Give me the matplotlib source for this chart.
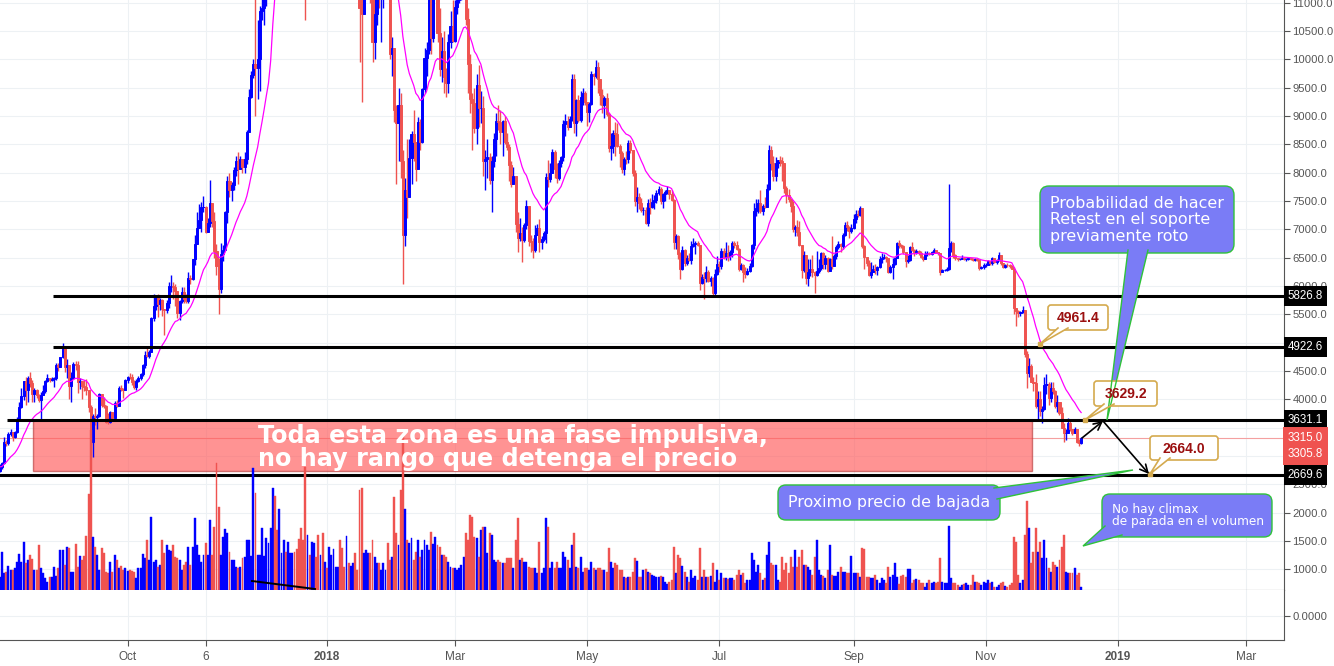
import numpy as np
import pandas as pd
import matplotlib
matplotlib.use('Agg')
import matplotlib.pyplot as plt
import matplotlib.dates as mdates
from matplotlib.ticker import FuncFormatter, FormatStrFormatter
from matplotlib.patches import Rectangle, FancyBboxPatch, Polygon

plt.rcParams['font.family'] = ['Liberation Sans', 'DejaVu Sans']

# ── datos diarios BTC (desde 2017-08-03) ─────────────────────
first_open = 2730
closes = [
    2810, 2870, 3250, 3230, 3390, 3420, 3340, 3420, 3650, 3860, 4060, 4320, 4160, 4380, 4290, 4100, 4160, 4080, 3990, 4080, 4150, 4330, 4370, 4350, 4360, 4380, 4600, 4580, 4740,
    4920, 4580, 4600, 4230, 4380, 4630, 4610, 4310, 4330, 4230, 4220, 4170, 3870, 3240, 3700, 3690, 3700, 4090, 3910, 3880, 3610, 3600, 3780, 3670, 3930, 3890, 4200, 4190, 4160, 4340,
    4400, 4390, 4310, 4220, 4330, 4370, 4440, 4610, 4780, 4770, 4830, 5440, 5640, 5830, 5690, 5760, 5600, 5580, 5710, 6000, 6010, 5980, 5910, 5520, 5740, 5890, 5770, 5740, 6150, 6130, 6470,
    6740, 7030, 7160, 7390, 7390, 6960, 7120, 7460, 7140, 6620, 6360, 5950, 6560, 6640, 7300, 7850, 7700, 7790, 8040, 8200, 8070, 8240, 8100, 8240, 8720, 9330, 9720, 9910, 9840, 10000,
    10860, 10900, 11250, 11620, 11700, 13700, 16800, 16000, 14800, 15000, 16700, 17100, 16300, 16400, 17600, 19200, 19100, 18900, 17600, 16400, 15600, 13800, 14200, 13700, 13900, 15800, 15400, 14400, 14400, 12600, 13800,
    13400, 14800, 15100, 15100, 17000, 17100, 16200, 14900, 14400, 14900, 13300, 13800, 14200, 13600, 13580, 10900, 10800, 11400, 11700, 12800, 11500, 10300, 10800, 11300, 11100, 11100, 11400, 11800, 11200, 10100, 10200,
    9100, 8870, 9200, 8200, 6900, 7700, 7580, 8260, 8680, 8550, 8070, 8900, 8540, 9480, 10030, 10170, 11090, 10380, 11150, 11420, 10460, 9830, 10140, 9690, 9590, 10310, 10590, 10330,
    10930, 11050, 11460, 11480, 11510, 10720, 9910, 9300, 9230, 8790, 9540, 9140, 9150, 8200, 8250, 8270, 7870, 8200, 8600, 8910, 8900, 8720, 8920, 8550, 8450, 8140, 7800, 7950, 7090, 6840, 6930,
    6810, 7070, 7420, 6800, 6780, 6630, 6910, 7030, 6770, 6830, 6940, 7920, 7890, 8000, 8360, 8060, 7900, 8170, 8280, 8860, 8920, 8800, 8940, 9650, 8870, 9280, 8930, 9340, 9400, 9240,
    9070, 9220, 9740, 9700, 9860, 9650, 9370, 9190, 9320, 9030, 8440, 8480, 8700, 8680, 8480, 8350, 8060, 8250, 8240, 8520, 8400, 8000, 7500, 7580, 7470, 7340, 7350, 7120, 7460, 7390, 7490,
    7520, 7640, 7720, 7500, 7630, 7660, 7690, 7620, 7520, 6780, 6880, 6560, 6300, 6640, 6400, 6500, 6460, 6710, 6740, 6760, 6720, 6050, 6160, 6150, 6250, 6090, 6150, 5880, 6210, 6390,
    6360, 6620, 6510, 6590, 6530, 6600, 6760, 6720, 6660, 6300, 6380, 6250, 6220, 6270, 6360, 6730, 7320, 7380, 7470, 7330, 7410, 7400, 7720, 8400, 8170, 7940, 8180, 8230, 8210, 8170, 7730,
    7600, 7540, 7420, 7010, 7040, 6950, 6720, 6280, 6540, 6150, 6240, 6310, 6250, 6190, 6270, 6320, 6580, 6390, 6490, 6270, 6480, 6360, 6530, 6690, 6740, 6710, 6910, 7070, 7040, 6980, 7020,
    7190, 7270, 7260, 7370, 6700, 6520, 6410, 6200, 6250, 6310, 6280, 6330, 6480, 6490, 6520, 6500, 6250, 6330, 6390, 6490, 6760, 6720, 6710, 6600, 6440, 6460, 6690, 6640, 6600, 6620,
    6590, 6520, 6480, 6560, 6580, 6560, 6600, 6640, 6610, 6580, 6250, 6280, 6280, 6300, 6670, 6760, 6540, 6500, 6470, 6480, 6500, 6480, 6480, 6490, 6480, 6460, 6470, 6460, 6320, 6330, 6370,
    6380, 6440, 6400, 6500, 6420, 6460, 6550, 6400, 6340, 6380, 6370, 6360, 6310, 5620, 5560, 5520, 5550, 5580, 4800, 4460, 4590, 4310, 4290, 3880, 4010, 3790, 3830, 4250, 4280, 4020,
    4200, 4150, 3880, 3960, 3760, 3500, 3400, 3410, 3580, 3470, 3410, 3480, 3250, 3230, 3315,
]
highs = [
    2860, 2900, 3340, 3290, 3420, 3480, 3420, 3450, 3690, 3960, 4200, 4330, 4400, 4420, 4480, 4350, 4200, 4180, 4090, 4130, 4250, 4350, 4450, 4380, 4400, 4400, 4640, 4640, 4750,
    4990, 4930, 4720, 4610, 4480, 4660, 4680, 4680, 4380, 4330, 4350, 4360, 4170, 3900, 3750, 3850, 3750, 4120, 4090, 4040, 3900, 3760, 3800, 3780, 3980, 3990, 4230, 4260, 4200, 4360,
    4420, 4470, 4440, 4350, 4360, 4420, 4470, 4620, 4860, 4920, 4880, 5450, 5860, 5850, 5860, 5790, 5780, 5600, 5750, 6070, 6200, 6070, 6040, 5900, 5760, 5980, 5990, 5860, 6250, 6200, 6480,
    6900, 7300, 7440, 7480, 7590, 7420, 7200, 7880, 7440, 7300, 6750, 6500, 6760, 6720, 7330, 7950, 8000, 7840, 8100, 8300, 8370, 8300, 8250, 8360, 8760, 9480, 9800, 10000, 11400, 10700,
    10950, 11150, 11850, 11630, 11880, 13860, 17170, 17200, 16300, 15700, 17400, 17500, 17300, 16900, 17900, 19300, 19700, 19100, 19000, 17800, 17200, 15600, 15400, 14000, 14200, 16100, 16300, 15300, 15000, 14400, 13900,
    13900, 15300, 15400, 15300, 17100, 17200, 17100, 16300, 15400, 14950, 14900, 14100, 14600, 14400, 14300, 13600, 11700, 12100, 12000, 13000, 12800, 11900, 11400, 11400, 11700, 11600, 11600, 12100, 11800, 11300, 10400,
    10200, 9200, 9500, 9400, 8400, 7900, 8600, 8600, 8740, 9100, 8550, 8990, 8940, 9500, 10200, 10300, 11200, 11300, 11250, 11800, 11300, 10900, 10400, 10500, 9850, 10450, 10850, 11050,
    11050, 11200, 11500, 11520, 11700, 11600, 10900, 10100, 9400, 9500, 9750, 9900, 9450, 9350, 8400, 8600, 8350, 8300, 8700, 9050, 9190, 9100, 8930, 9000, 8700, 8500, 8200, 8100, 7950, 7300, 7200,
    7050, 7110, 7520, 7420, 6900, 6850, 7080, 7100, 7180, 6880, 6980, 8000, 8230, 8170, 8420, 8400, 8180, 8230, 8300, 8930, 9040, 9000, 9000, 9750, 9750, 9300, 9380, 9450, 9500, 9450,
    9240, 9250, 9800, 9760, 9990, 9960, 9660, 9470, 9360, 9400, 9050, 8700, 8750, 8890, 8880, 8500, 8380, 8270, 8380, 8580, 8570, 8400, 8050, 7740, 7640, 7560, 7400, 7400, 7530, 7550, 7620,
    7600, 7700, 7760, 7740, 7650, 7700, 7760, 7700, 7690, 7530, 6920, 6900, 6600, 6700, 6650, 6550, 6580, 6790, 6840, 6790, 6790, 6730, 6220, 6250, 6350, 6290, 6180, 6160, 6300, 6530,
    6440, 6680, 6680, 6780, 6720, 6640, 6800, 6790, 6800, 6680, 6400, 6390, 6330, 6320, 6400, 6740, 7470, 7540, 7540, 7690, 7450, 7580, 7800, 8490, 8480, 8300, 8280, 8230, 8290, 8270, 8180,
    7760, 7720, 7540, 7500, 7080, 7160, 7150, 6730, 6620, 6550, 6480, 6480, 6540, 6260, 6620, 6480, 6600, 6600, 6550, 6520, 6500, 6880, 6560, 6720, 6800, 6760, 6940, 7130, 7140, 7060, 7090,
    7270, 7340, 7350, 7410, 7380, 6720, 6520, 6460, 6430, 6370, 6390, 6360, 6530, 6580, 6560, 6530, 6500, 6380, 6500, 6520, 6780, 6820, 6750, 6720, 6600, 6540, 6700, 6780, 6650, 6650,
    6640, 6620, 6530, 6620, 6620, 6600, 6620, 6680, 6640, 6600, 6580, 6310, 6300, 6340, 7800, 6800, 6780, 6560, 6500, 6500, 6540, 6520, 6500, 6520, 6500, 6500, 6490, 6480, 6470, 6360, 6400,
    6400, 6460, 6440, 6520, 6500, 6470, 6600, 6550, 6410, 6390, 6400, 6390, 6370, 6330, 5620, 5580, 5560, 5640, 5580, 4850, 4730, 4630, 4390, 4450, 4150, 4150, 3880, 4390, 4450, 4310,
    4300, 4300, 4160, 4070, 3960, 3860, 3580, 3470, 3680, 3630, 3480, 3520, 3480, 3300, 3330,
]
lows = [
    2720, 2780, 2860, 3170, 3200, 3350, 3260, 3320, 3400, 3620, 3840, 3990, 3900, 3960, 4220, 3950, 3960, 4020, 3950, 3620, 4080, 4120, 4300, 4300, 4320, 4220, 4350, 4500, 4580,
    4730, 4480, 4380, 4000, 3950, 4380, 4520, 4120, 4190, 4000, 4150, 4080, 3780, 3220, 2980, 3550, 3480, 3690, 3860, 3850, 3580, 3560, 3590, 3650, 3660, 3860, 3890, 4140, 4030, 4160,
    4290, 4360, 4250, 4180, 4170, 4310, 4350, 4420, 4560, 4740, 4730, 4830, 5390, 5580, 5450, 5570, 5480, 5140, 5520, 5610, 5900, 5770, 5650, 5440, 5400, 5700, 5710, 5700, 5700, 6030, 6100,
    6370, 6940, 7020, 6950, 7300, 6940, 6950, 7040, 7050, 6500, 6200, 5500, 5880, 6450, 6670, 7120, 7570, 7500, 7700, 7940, 7810, 8070, 8000, 8000, 8150, 8720, 9310, 9680, 9000, 9300,
    9450, 10700, 10600, 10950, 11470, 11690, 13550, 13800, 13100, 13100, 14950, 16400, 15900, 15950, 16300, 17500, 18700, 18100, 16600, 15400, 14600, 10700, 13700, 12400, 13300, 13800, 14900, 13500, 13900, 12300, 12500,
    12800, 12900, 14600, 14100, 14800, 16200, 15800, 13000, 14100, 13100, 12800, 12800, 13900, 13000, 13400, 9960, 9250, 10900, 11200, 11600, 11000, 9960, 10000, 10600, 10900, 10310, 10900, 11400, 11100, 10000, 9700,
    8900, 7800, 8200, 7900, 6040, 6700, 7200, 7580, 7800, 8200, 7860, 8070, 8400, 8530, 9400, 9700, 10100, 10100, 10300, 11100, 10300, 9700, 9600, 9400, 9340, 9400, 10200, 10300,
    10300, 10800, 11000, 11050, 11400, 10600, 9400, 9050, 8400, 8700, 8500, 8800, 8880, 7950, 7700, 7900, 7800, 7300, 8100, 8300, 8750, 8500, 8300, 8500, 8400, 7850, 7750, 7800, 6950, 6600, 6800,
    6430, 6780, 7010, 6700, 6600, 6500, 6600, 6900, 6610, 6660, 6800, 6760, 7750, 7830, 8000, 7900, 7820, 7880, 8100, 8200, 8650, 8750, 8800, 8920, 8700, 8650, 8900, 8900, 9200, 9200,
    8830, 8900, 9200, 9550, 9670, 9400, 9200, 9060, 8970, 9000, 8360, 8220, 8350, 8300, 8450, 8100, 8000, 7960, 8160, 8180, 8350, 7950, 7420, 7300, 7360, 7300, 7250, 7100, 7060, 7280, 7380,
    7360, 7460, 7600, 7450, 7380, 7500, 7630, 7540, 7500, 6660, 6650, 6470, 6120, 6280, 6350, 6380, 6450, 6390, 6690, 6560, 6700, 5930, 6030, 5780, 6070, 6070, 6010, 5830, 5830, 6190,
    6250, 6300, 6470, 6460, 6450, 6460, 6520, 6680, 6640, 6270, 6280, 6070, 6140, 6200, 6240, 6340, 6650, 7240, 7290, 7290, 7250, 7380, 7390, 7700, 8050, 7860, 7860, 8080, 8120, 7860, 7650,
    7460, 7480, 7300, 6960, 6880, 6880, 6700, 6140, 6250, 6030, 6010, 6180, 6160, 5880, 6180, 6230, 6290, 6300, 6300, 6250, 6260, 6300, 6350, 6480, 6660, 6600, 6650, 6880, 6970, 6840, 6940,
    7010, 7120, 7220, 7240, 6680, 6300, 6350, 6170, 6150, 6240, 6220, 6200, 6320, 6410, 6480, 6420, 6230, 6230, 6120, 6380, 6500, 6680, 6680, 6560, 6340, 6410, 6440, 6620, 6530, 6560,
    6550, 6500, 6440, 6470, 6530, 6540, 6550, 6580, 6590, 6540, 6200, 6250, 6260, 6270, 6290, 6600, 6500, 6460, 6440, 6460, 6470, 6460, 6450, 6460, 6460, 6440, 6450, 6440, 6280, 6300, 6300,
    6340, 6370, 6380, 6380, 6410, 6390, 6450, 6380, 6320, 6320, 6330, 6320, 6300, 5500, 5300, 5450, 5480, 5530, 4750, 4200, 4400, 4300, 4150, 3850, 3650, 3700, 3580, 3820, 4100, 3900,
    3960, 4100, 3840, 3780, 3730, 3500, 3240, 3290, 3400, 3440, 3370, 3400, 3230, 3180, 3210,
]
volume = [
    13, 38, 17, 18, 24, 20, 20, 22, 28, 36, 28, 48, 27, 30, 35, 31, 20, 20, 45, 22, 17, 12, 8, 13, 13, 23, 14, 22, 40,
    40, 25, 43, 42, 18, 18, 46, 23, 34, 30, 34, 54, 96, 160, 53, 43, 35, 20, 42, 37, 18, 17, 28, 18, 35, 30, 22, 24, 20, 22,
    19, 20, 19, 18, 12, 22, 22, 36, 32, 50, 30, 73, 28, 30, 23, 25, 50, 37, 45, 40, 39, 45, 33, 32, 30, 20, 25, 28, 43, 25, 43,
    72, 45, 35, 28, 35, 47, 35, 70, 35, 63, 127, 83, 35, 53, 61, 57, 38, 30, 30, 23, 22, 23, 32, 33, 50, 50, 34, 122, 97, 35,
    35, 62, 34, 52, 47, 62, 102, 94, 60, 81, 37, 50, 38, 48, 37, 37, 38, 41, 51, 62, 50, 123, 55, 35, 48, 47, 33, 55, 35, 57, 28,
    22, 43, 35, 41, 23, 23, 50, 42, 23, 54, 27, 24, 27, 37, 20, 100, 102, 37, 40, 37, 37, 50, 33, 27, 27, 20, 27, 20, 47, 30, 33,
    93, 57, 45, 100, 155, 81, 50, 47, 52, 30, 38, 50, 33, 40, 50, 45, 40, 58, 46, 53, 45, 43, 35, 35, 33, 28, 23, 22,
    22, 20, 22, 25, 33, 57, 50, 75, 73, 53, 52, 33, 60, 63, 63, 37, 57, 55, 30, 28, 30, 28, 27, 27, 32, 32, 32, 22, 50, 72, 30,
    32, 28, 28, 23, 22, 22, 22, 17, 48, 17, 22, 72, 63, 22, 28, 22, 28, 22, 22, 38, 33, 30, 22, 45, 57, 23, 22, 33, 18, 22,
    22, 20, 28, 22, 20, 22, 22, 20, 20, 18, 42, 28, 22, 27, 25, 20, 20, 13, 12, 13, 13, 18, 32, 29, 13, 13, 20, 21, 18, 17, 15,
    14, 13, 13, 14, 13, 8, 6, 8, 10, 43, 17, 35, 32, 24, 18, 13, 8, 20, 12, 14, 10, 42, 13, 20, 13, 13, 14, 27, 8, 20,
    10, 17, 12, 12, 11, 12, 12, 10, 15, 20, 15, 17, 7, 10, 10, 37, 30, 18, 25, 17, 10, 12, 35, 48, 27, 25, 25, 10, 8, 33, 20,
    27, 17, 33, 23, 40, 23, 33, 40, 25, 25, 23, 20, 15, 33, 50, 20, 15, 14, 12, 20, 45, 15, 14, 14, 18, 23, 18, 18, 17, 17, 34,
    17, 17, 17, 13, 42, 41, 13, 13, 12, 12, 15, 10, 7, 12, 10, 7, 23, 13, 15, 27, 13, 6, 14, 15, 13, 21, 21, 7, 10, 11,
    10, 7, 7, 3, 7, 10, 7, 8, 7, 8, 32, 8, 7, 7, 64, 12, 7, 7, 5, 3, 5, 6, 7, 5, 5, 15, 8, 8, 7, 5, 8,
    7, 10, 7, 8, 3, 3, 5, 7, 8, 4, 3, 5, 7, 53, 48, 15, 7, 10, 55, 89, 62, 27, 38, 62, 38, 48, 32, 50, 32, 22,
    18, 28, 25, 23, 30, 43, 55, 18, 17, 17, 17, 22, 15, 17, 3,
]

# niveles dibujados (precio, fecha de inicio de la línea)
levels = [5826.8, 4922.6, 3631.1, 2669.6]
level_starts = ['2017-08-27 14:00', '2017-08-27 14:00', '2017-08-06 07:00', '2017-08-02']
last_prices = [3315.0, 3305.8]
zone = ('2017-08-18 07:00', '2018-11-22 07:00', 2737, 3640)
hidden_ticks = [5000, 3500, 3000]      # tapados por las etiquetas de nivel

tick_dates = ['2017-10-01', '2017-11-06', '2018-01-01', '2018-03-01', '2018-05-01',
              '2018-07-01', '2018-09-01', '2018-11-01', '2019-01-01', '2019-03-01']
tick_labels = ['Oct', '6', '2018', 'Mar', 'May', 'Jul', 'Sep', 'Nov', '2019', 'Mar']

BLUE, RED, MAG = '#0000ff', '#ef5350', '#ff00ff'
GRID, AXC = '#edf1f4', '#555555'

# ── preparar series ─────────────────────────────────────────
dates = pd.date_range('2017-08-03', periods=len(closes), freq='D')
x = mdates.date2num(dates.to_pydatetime())
c = np.array(closes, float)
o = np.r_[first_open, c[:-1]]
hi = np.array(highs, float)
lo = np.array(lows, float)
cols = np.where(c >= o, BLUE, RED)
ema = pd.Series(c).ewm(span=20, adjust=False).mean().values

def dnum(s):
    return mdates.date2num(pd.Timestamp(s).to_pydatetime())

W, H = 1334, 666
fig = plt.figure(figsize=(W / 100, H / 100), dpi=100)
ax = fig.add_axes([0, 76 / H, 1284 / W, 590 / H])
ax2 = fig.add_axes([0, 26 / H, 1284 / W, 50 / H], sharex=ax)

jan1 = dnum('2018-01-01')
ppd = 2.1671
ax.set_xlim(jan1 - 327 / ppd, jan1 + (1284 - 327) / ppd)
ax.set_ylim(637, 11048)

# volumen (eje gemelo oculto)
axv = ax.twinx()
axv.set_ylim(0, 590)
axv.bar(x, volume, width=0.9, color=cols, edgecolor=cols, linewidth=0.3)
axv.axis('off')

# zona roja
z0, z1 = dnum(zone[0]), dnum(zone[1])
ax.add_patch(Rectangle((z0, zone[2]), z1 - z0, zone[3] - zone[2], fc='#ff5a5a', alpha=0.65,
                       ec='#b83a3a', lw=1, zorder=2))
ax.axhline(last_prices[0], color='#f4a0a0', lw=0.8, zorder=1.5)

# velas
ax.vlines(x, lo, hi, colors=cols, lw=1.0, zorder=3)
ax.bar(x, np.abs(c - o), bottom=np.minimum(o, c), width=0.95, color=cols, edgecolor=cols,
       linewidth=0.7, zorder=3)
ax.plot(x, ema, color=MAG, lw=0.9, zorder=4)

# niveles horizontales
xr = ax.get_xlim()[1]
for lvl, st in zip(levels, level_starts):
    ax.hlines(lvl, dnum(st), xr, color='black', lw=2.2, zorder=5)

# ejes y rejilla
tnums = [dnum(d) for d in tick_dates]
for a in (ax, ax2):
    a.set_xticks(tnums)
    a.grid(True, color=GRID, lw=0.8)
    a.set_axisbelow(True)
    a.yaxis.tick_right()
    a.spines[['top', 'left']].set_visible(False)
    a.spines['right'].set_color(AXC)
    a.spines['bottom'].set_color(AXC)
    a.tick_params(axis='y', labelsize=8.1, colors=AXC, length=4, width=0.8, pad=2)

ax.set_yticks(np.arange(1000, 11001, 500))
ax.yaxis.set_major_formatter(FuncFormatter(lambda v, p: '' if round(v) in hidden_ticks else f'{v:.1f}'))
ax.tick_params(axis='x', length=0, labelbottom=False)

ax2.set_ylim(-1, 1.083)
ax2.set_yticks([0])
ax2.yaxis.set_major_formatter(FormatStrFormatter('%.4f'))
ax2.set_xticks(tnums, tick_labels)
ax2.tick_params(axis='x', labelsize=8.5, colors=AXC, length=4, width=0.8, pad=4, labelbottom=True)
for t in ax2.get_xticklabels():
    if t.get_text() in ('2018', '2019'):
        t.set_fontweight('bold')

# etiquetas de nivel en el eje de precios
ytr = ax.get_yaxis_transform()
for lvl in levels:
    ax.text(1.003, lvl, f'{lvl:.1f}', transform=ytr, ha='left', va='center', color='white',
            fontsize=8.3, clip_on=False, zorder=10,
            bbox=dict(boxstyle='square,pad=0.35', fc='black', ec='none'))
ax.text(1.003, last_prices[0], f'{last_prices[0]:.1f}', transform=ytr, ha='left', va='center',
        color='white', fontsize=8.3, clip_on=False, zorder=10,
        bbox=dict(boxstyle='square,pad=0.45', fc=RED, ec='none'))
ax.annotate(f'{last_prices[1]:.1f}', xy=(1.003, last_prices[0]), xycoords=ytr,
            xytext=(0, -11), textcoords='offset points', ha='left', va='center',
            color='white', fontsize=8.3, annotation_clip=False, zorder=10,
            bbox=dict(boxstyle='square,pad=0.45', fc=RED, ec='none'))

# ── dibujos (coordenadas en píxeles) ────────────────────────
ov = fig.add_axes([0, 0, 1, 1])
ov.set_xlim(0, W)
ov.set_ylim(H, 0)
ov.axis('off')
ov.set_zorder(20)

def callout(box, base, tip, fc, ec, r, lw=1.0):
    x0, y0, x1, y1 = box
    ov.add_patch(FancyBboxPatch((x0, y0), x1 - x0, y1 - y0,
                                boxstyle=f'round,pad=0,rounding_size={r}', fc=fc, ec=ec, lw=lw))
    ov.add_patch(Polygon([base[0], base[1], tip], closed=True, fc=fc, ec='none'))
    ov.plot([base[0][0], tip[0], base[1][0]], [base[0][1], tip[1], base[1][1]],
            color=ec, lw=lw, solid_joinstyle='miter')

BOXB, BOXE = '#7a7cf6', '#2fc23a'
GOLD = '#d4aa4e'
DARKRED = '#9b1010'

ov.text(258, 436, 'Toda esta zona es una fase impulsiva,', color='white', fontsize=17.2,
        fontweight='bold', family='DejaVu Sans', va='center')
ov.text(258, 459, 'no hay rango que detenga el precio', color='white', fontsize=17.2,
        fontweight='bold', family='DejaVu Sans', va='center')

callout((1040, 186, 1234, 253), [(1128, 250), (1148, 250)], (1107, 420), BOXB, BOXE, 9)
for yy, s in zip((203, 219.5, 236), ('Probabilidad de hacer', 'Retest en el soporte', 'previamente roto')):
    ov.text(1050, yy, s, color='white', fontsize=11.4, family='DejaVu Sans', va='center')

callout((778, 485, 1000, 520), [(994, 488), (997, 499)], (1133, 470), BOXB, BOXE, 8)
ov.text(788, 502, 'Proximo precio de bajada', color='white', fontsize=11.4,
        family='DejaVu Sans', va='center')

callout((1102, 494, 1272, 537), [(1105, 526), (1122, 535)], (1083, 546), BOXB, BOXE, 8)
ov.text(1112, 509, 'No hay climax', color='white', fontsize=8.7, family='DejaVu Sans', va='center')
ov.text(1112, 522, 'de parada en el volumen', color='white', fontsize=8.7, family='DejaVu Sans', va='center')

for box, base, tip, s in [((1048, 305, 1108, 330), [(1058, 328), (1068, 328)], (1040, 344), '4961.4'),
                          ((1094, 381, 1157, 406), [(1104, 404), (1114, 404)], (1085, 420), '3629.2'),
                          ((1150, 436, 1218, 460), [(1160, 458), (1170, 458)], (1150, 474), '2664.0')]:
    callout(box, base, tip, 'white', GOLD, 3, lw=1.2)
    ov.plot(*tip, marker='s', ms=3, color=GOLD)
    ov.text((box[0] + box[2]) / 2, (box[1] + box[3]) / 2 + 1, s, color=DARKRED, fontsize=10,
            fontweight='bold', ha='center', va='center')

arw = dict(arrowstyle='->', color='black', lw=1.2, shrinkA=0, shrinkB=0, mutation_scale=14)
ov.annotate('', xy=(1103, 421), xytext=(1082, 438), arrowprops=arw)
ov.annotate('', xy=(1149, 474), xytext=(1103, 421), arrowprops=arw)
ov.plot([252, 315], [581, 589], color='black', lw=1.4)

fig.savefig('out.png', dpi=100, facecolor='white')
